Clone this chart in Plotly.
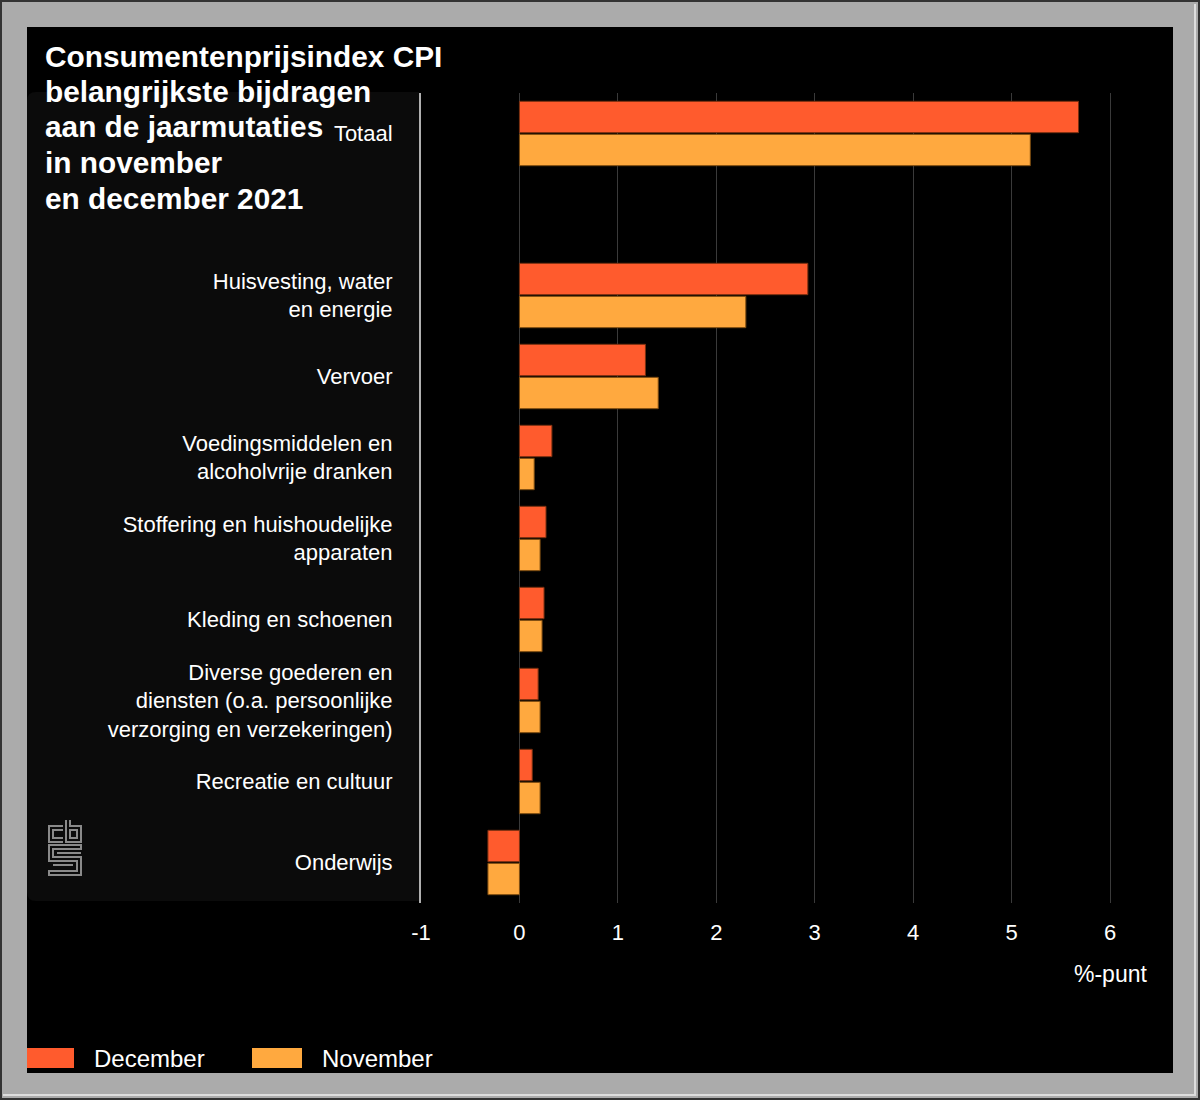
import plotly.graph_objects as go

# ---------------- data ----------------
categories = [
    "Totaal",
    " ",
    "Huisvesting, water<br>en energie",
    "Vervoer",
    "Voedingsmiddelen en<br>alcoholvrije dranken",
    "Stoffering en huishoudelijke<br>apparaten",
    "Kleding en schoenen",
    "Diverse goederen en<br>diensten (o.a. persoonlijke<br>verzorging en verzekeringen)",
    "Recreatie en cultuur",
    "Onderwijs",
]
bar_categories = [c for c in categories if c != " "]
december = [5.68, 2.93, 1.28, 0.33, 0.27, 0.25, 0.19, 0.13, -0.32]
november = [5.19, 2.30, 1.41, 0.15, 0.21, 0.23, 0.21, 0.21, -0.32]
x_ticks = [-1, 0, 1, 2, 3, 4, 5, 6]

title_lines = ["Consumentenprijsindex CPI", "belangrijkste bijdragen",
               "aan de jaarmutaties", "in november", "en december 2021"]
unit_text = "%-punt"

DEC_COLOR = "#FF5B2D"
NOV_COLOR = "#FFA93F"

W, H = 1200, 1100
L, R, T, B = 421, 50, 93, 197
PW, PH = W - L - R, H - T - B


def px(x):
    return (x - L) / PW


def py(y):
    return (H - B - y) / PH


fig = go.Figure()
fig.add_trace(go.Bar(
    y=bar_categories, x=december, orientation="h", name="December",
    marker=dict(color=DEC_COLOR, line=dict(color="#7a3010", width=1)),
    hoverinfo="x+y",
))
fig.add_trace(go.Bar(
    y=bar_categories, x=november, orientation="h", name="November",
    marker=dict(color=NOV_COLOR, line=dict(color="#7a4a10", width=1)),
    hoverinfo="x+y",
))

shapes = []
# black chart area
shapes.append(dict(type="rect", xref="paper", yref="paper", layer="below",
                   x0=px(27), x1=px(1173), y0=py(27), y1=py(1073),
                   fillcolor="#000000", line=dict(width=0)))
# dark panel behind labels (rounded)
x0, x1, y0, y1, r = 27, 419, 92, 901, 9
path = (f"M{px(x0 + r)},{py(y0)} L{px(x1)},{py(y0)} L{px(x1)},{py(y1)} "
        f"L{px(x0 + r)},{py(y1)} Q{px(x0)},{py(y1)} {px(x0)},{py(y1 - r)} "
        f"L{px(x0)},{py(y0 + r)} Q{px(x0)},{py(y0)} {px(x0 + r)},{py(y0)} Z")
shapes.append(dict(type="path", xref="paper", yref="paper", layer="below",
                   path=path, fillcolor="#0b0b0b", line=dict(width=0)))
# outer frame lines
shapes.append(dict(type="rect", xref="paper", yref="paper", layer="above",
                   x0=px(1), x1=px(1199), y0=py(1), y1=py(1099),
                   fillcolor="rgba(0,0,0,0)", line=dict(color="#333333", width=2)))
shapes.append(dict(type="line", xref="paper", yref="paper", layer="above",
                   x0=px(3), x1=px(1196), y0=py(1095), y1=py(1095),
                   line=dict(color="#dddddd", width=2)))
shapes.append(dict(type="line", xref="paper", yref="paper", layer="above",
                   x0=px(1195), x1=px(1195), y0=py(4), y1=py(1095),
                   line=dict(color="#dddddd", width=2)))

# CBS logo (decorative)
ox, oy = 49, 820


def lp(points, close=False):
    s = " ".join(("M" if i == 0 else "L") + f"{px(ox + a)},{py(oy + b)}"
                 for i, (a, b) in enumerate(points))
    return s + (" Z" if close else "")


logo_paths = [
    lp([(14, 6), (0, 6), (0, 22), (14, 22)]),
    lp([(14, 10), (4, 10), (4, 18), (14, 18)]),
    lp([(17, 0), (17, 22), (32, 22), (32, 6), (21, 6), (21, 0)]),
    lp([(21, 10), (28, 10), (28, 18), (21, 18)], close=True),
    lp([(32, 25), (0, 25), (0, 41), (28, 41), (28, 51), (0, 51), (0, 55),
        (32, 55), (32, 37), (4, 37), (4, 29), (32, 29)], close=True),
    lp([(32, 33), (8, 33)]),
    lp([(24, 45), (4, 45)]),
]
for p in logo_paths:
    shapes.append(dict(type="path", xref="paper", yref="paper", layer="above",
                       path=p, line=dict(color="#8a8a8a", width=2)))

# legend swatches
shapes.append(dict(type="rect", xref="paper", yref="paper", layer="above",
                   x0=px(27), x1=px(74), y0=py(1048), y1=py(1068),
                   fillcolor=DEC_COLOR, line=dict(width=0)))
shapes.append(dict(type="rect", xref="paper", yref="paper", layer="above",
                   x0=px(252), x1=px(302), y0=py(1048), y1=py(1068),
                   fillcolor=NOV_COLOR, line=dict(width=0)))

annotations = []
title_centers = [56, 91.5, 127, 162.5, 198.5]
for line, cy in zip(title_lines, title_centers):
    annotations.append(dict(
        text=line, xref="paper", yref="paper", x=px(43), y=py(cy),
        xanchor="left", yanchor="middle", align="left", showarrow=False,
        font=dict(family="Liberation Sans, Arial, sans-serif", size=29.8,
                  color="#ffffff", weight="bold")))

annotations += [
    dict(text=unit_text, xref="paper", yref="paper", x=px(1149), y=py(974),
         xanchor="right", yanchor="middle", showarrow=False,
         font=dict(family="Liberation Sans Narrow, Arial Narrow, Liberation Sans, sans-serif",
                   size=23, color="#ffffff")),
    dict(text="December", xref="paper", yref="paper", x=px(92), y=py(1058),
         xanchor="left", yanchor="middle", showarrow=False,
         font=dict(family="Liberation Sans, Arial, sans-serif", size=24, color="#ffffff")),
    dict(text="November", xref="paper", yref="paper", x=px(320), y=py(1058),
         xanchor="left", yanchor="middle", showarrow=False,
         font=dict(family="Liberation Sans, Arial, sans-serif", size=24, color="#ffffff")),
]

fig.update_layout(
    width=W, height=H,
    margin=dict(l=L, r=R, t=T, b=B, autoexpand=False),
    paper_bgcolor="#ababab",
    plot_bgcolor="rgba(0,0,0,0)",
    barmode="group", bargap=0.185, bargroupgap=0.05,
    showlegend=False,
    shapes=shapes,
    annotations=annotations,
    xaxis=dict(
        range=[-1, 6.406], tickvals=x_ticks, ticktext=[str(v) for v in x_ticks],
        showgrid=True, gridcolor="#3a3a3a", gridwidth=1,
        zeroline=True, zerolinecolor="#3a3a3a", zerolinewidth=1,
        showline=False, ticks="", ticklabelstandoff=14,
        tickfont=dict(family="Liberation Sans Narrow, Arial Narrow, Liberation Sans, sans-serif",
                      size=22, color="#ffffff"),
        fixedrange=True,
    ),
    yaxis=dict(
        type="category", categoryorder="array", categoryarray=categories,
        range=[len(categories) - 0.5, -0.5],
        showgrid=False, zeroline=False,
        showline=True, linecolor="#b0b0b0", linewidth=2,
        ticks="", ticklabelstandoff=22,
        tickfont=dict(family="Liberation Sans, Arial, sans-serif", size=22, color="#ffffff"),
        fixedrange=True,
    ),
)

fig.write_html("out.html", config={"displayModeBar": False})
